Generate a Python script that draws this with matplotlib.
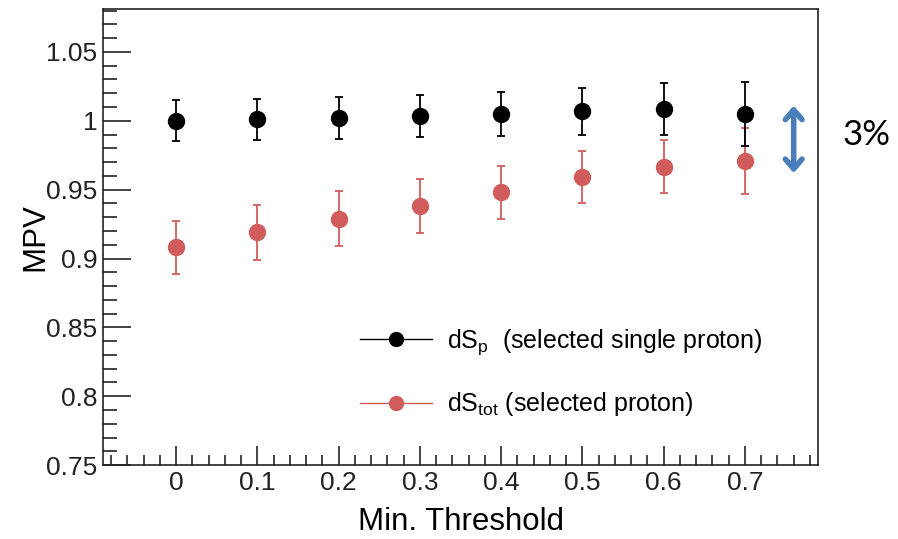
import matplotlib.pyplot as plt
from matplotlib.lines import Line2D
from matplotlib.ticker import MultipleLocator

plt.rcParams['font.family'] = ['Liberation Sans', 'DejaVu Sans']

# thresholds
thr = [0.0, 0.1, 0.2, 0.3, 0.4, 0.5, 0.6, 0.7]

# dS_p (selected single proton)
mpv_p = [1.000, 1.001, 1.002, 1.0035, 1.005, 1.007, 1.0085, 1.005]
err_p = [0.015, 0.015, 0.015, 0.0153, 0.016, 0.017, 0.019, 0.023]

# dS_tot (selected proton)
mpv_tot = [0.908, 0.919, 0.929, 0.938, 0.948, 0.959, 0.9665, 0.971]
err_tot = [0.019, 0.020, 0.020, 0.0195, 0.019, 0.019, 0.0193, 0.024]

red = '#d15c5c'

fig = plt.figure(figsize=(8.98, 5.39), dpi=100)
ax = fig.add_axes([0.1147, 0.137, 0.7963, 0.846])

ax.errorbar(thr, mpv_tot, yerr=err_tot, fmt='o', color=red, ms=11.5,
            elinewidth=1.3, capsize=3, capthick=1.3, zorder=3)
ax.errorbar(thr, mpv_p, yerr=err_p, fmt='o', color='black', ms=11.5,
            elinewidth=1.3, capsize=3, capthick=1.3, zorder=4)

ax.set_xlim(-0.09, 0.79)
ax.set_ylim(0.75, 1.081)

ax.xaxis.set_minor_locator(MultipleLocator(0.02))
ax.yaxis.set_minor_locator(MultipleLocator(0.01))
ax.set_xticks(thr)
ax.set_xticklabels(['0', '0.1', '0.2', '0.3', '0.4', '0.5', '0.6', '0.7'])
ax.set_yticks([0.75, 0.8, 0.85, 0.9, 0.95, 1.0, 1.05])
ax.set_yticklabels(['0.75', '0.8', '0.85', '0.9', '0.95', '1', '1.05'])

ax.tick_params(axis='both', which='both', direction='in', top=False, right=False,
               labelsize=19, colors='#222222')
ax.tick_params(axis='y', which='major', length=20, width=1.2, pad=4)
ax.tick_params(axis='y', which='minor', length=10, width=1.2)
ax.tick_params(axis='x', which='major', length=14, width=1.2, pad=4)
ax.tick_params(axis='x', which='minor', length=7, width=1.2)
for s in ax.spines.values():
    s.set_linewidth(1.2)
    s.set_color('#222222')

ax.set_xlabel('Min. Threshold', fontsize=22.5)
ax.set_ylabel('MPV', fontsize=22.5)
ax.xaxis.set_label_coords(0.5, -0.125)
ax.yaxis.set_label_coords(-0.095, 0.5)
ax.xaxis.label.set_va('center')
ax.yaxis.label.set_va('center')

handles = [
    Line2D([], [], color='black', lw=1, marker='o', ms=10),
    Line2D([], [], color=red, lw=1, marker='o', ms=10),
]
labels = [r'dS$_\mathregular{p}$  (selected single proton)',
          r'dS$_\mathregular{tot}$ (selected proton)']
ax.legend(handles, labels, loc='upper left', bbox_to_anchor=(0.345, 0.325),
          frameon=False, fontsize=18, handlelength=2.9, labelspacing=1.35,
          handletextpad=0.6, borderaxespad=0)

# 3% arrow to the right of the last points
ax.annotate('', xy=(0.76, 1.013), xytext=(0.76, 0.960),
            arrowprops=dict(arrowstyle='<->,head_length=0.7,head_width=0.6',
                            color='#4a7ebb', lw=4))
fig.text(0.965, 0.75, '3%', fontsize=25, family=['Lato', 'DejaVu Sans'],
         ha='center', va='center')

fig.savefig('out.png', dpi=100)
